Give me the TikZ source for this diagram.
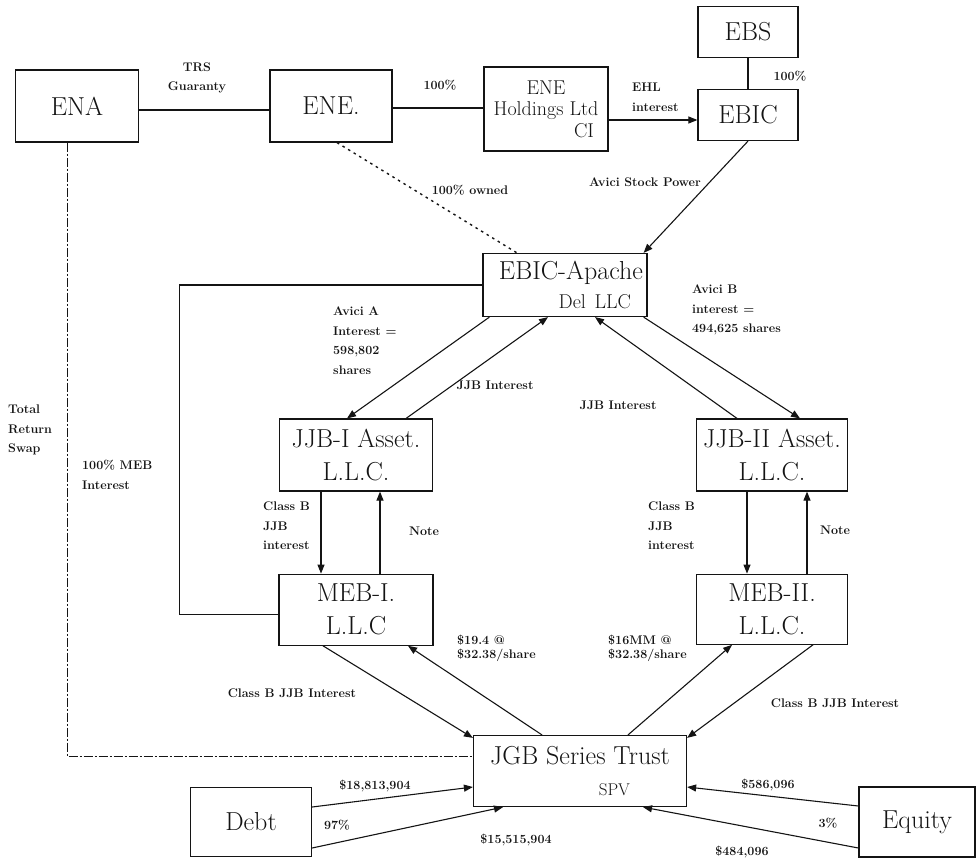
\documentclass[tikz,border=0pt]{standalone}
\usepackage{tikz}
\usetikzlibrary{
  positioning,
  arrows.meta
}
\definecolor{inkcolor}{RGB}{20,20,20}
\tikzset{
  entitybox/.style={
    draw=inkcolor, line width=1.2pt, inner sep=3pt,
    align=center, font=\fontsize{26}{33}\selectfont, text=inkcolor
  },
  smallbox/.style={
    entitybox, font=\fontsize{20}{21.5}\selectfont
  },
  flowarrow/.style={
    ->, >={Triangle[length=9pt,width=7pt]}, line width=1.1pt, draw=inkcolor
  },
  plainline/.style={
    line width=1.1pt, draw=inkcolor
  },
  ownline/.style={
    dash pattern=on 2.5pt off 4pt, line width=1.4pt, draw=inkcolor
  },
  swapline/.style={
    dash pattern=on 9pt off 2pt on 2pt off 2pt, line width=0.9pt, draw=inkcolor
  },
  flowlabel/.style={
    font=\fontsize{12.5}{19.5}\selectfont\bfseries, align=left,
    inner sep=0pt, text=inkcolor
  },
  pricelabel/.style={
    flowlabel, font=\fontsize{12.5}{14}\selectfont\bfseries
  }
}

\begin{document}
\begin{tikzpicture}[x=1pt, y=-1pt]
    \useasboundingbox (0,0) rectangle (976,860);

    % top row
    \node[entitybox, minimum width=123pt, minimum height=72pt] (ena) at (77,106) {ENA};
    \node[entitybox, minimum width=122pt, minimum height=72pt] (ene) at (331,106) {ENE.};
    \node[smallbox, minimum width=124pt, minimum height=84pt] (eneh) at (546,109) {ENE\\Holdings Ltd\\\makebox[96pt][r]{CI}};
    \node[entitybox, minimum width=100pt, minimum height=51pt] (ebic) at (748,115) {EBIC};
    \node[entitybox, minimum width=100pt, minimum height=51pt, above=31pt of ebic] (ebs) {EBS};

    % middle
    \node[entitybox, minimum width=164pt, minimum height=63pt, align=right, text width=156pt] (apache) at (565,285)
      {EBIC-Apache\\[-4pt]{\fontsize{20}{20}\selectfont Del LLC}\hspace*{12pt}};
    \node[entitybox, minimum width=153pt, minimum height=72pt] (jjbone) at (356,455) {JJB-I Asset.\\L.L.C.};
    \node[entitybox, minimum width=151pt, minimum height=72pt] (jjbtwo) at (772,455) {JJB-II Asset.\\L.L.C.};
    \node[entitybox, minimum width=154pt, minimum height=71pt, below=82pt of jjbone] (mebone) {MEB-I.\\L.L.C};
    \node[entitybox, minimum width=151pt, minimum height=70pt, below=82pt of jjbtwo] (mebtwo) {MEB-II.\\L.L.C.};

    % bottom row
    \node[entitybox, minimum width=213pt, minimum height=71pt] (jgb) at (580,771)
      {JGB Series Trust\\[-2pt]{\fontsize{17}{17}\selectfont\makebox[100pt][r]{SPV}}};
    \node[entitybox, minimum width=121pt, minimum height=69pt] (debt) at (251,822) {Debt};
    \node[entitybox, minimum width=116pt, minimum height=70pt] (equity) at (917,822) {Equity};

    % ownership lines
    \draw[plainline] ([yshift=-4pt]ena.east) -- ([yshift=-4pt]ena.east -| ene.west);
    \draw[plainline] ([yshift=-2pt]ene.east) -- ([yshift=-2pt]ene.east -| eneh.west);
    \draw[flowarrow] ([yshift=-11pt]eneh.east) -- ([yshift=-11pt]eneh.east -| ebic.west);
    \draw[plainline] (ebs) -- (ebic);
    \draw[flowarrow] (ebic.south) -- ([xshift=-4pt]apache.north east);
    \draw[ownline] ([xshift=6pt]ene.south) -- ([xshift=-48pt]apache.north);
    \draw[swapline] ([xshift=-10pt]ena.south) |- ([yshift=15pt]jgb.west);
    \draw[plainline] (apache.west) -| ([xshift=-99pt,yshift=-5pt]mebone.west) -- ([yshift=-5pt]mebone.west);

    % apache <-> jjb
    \draw[flowarrow] ([xshift=7pt]apache.south west) -- ([xshift=-9pt]jjbone.north);
    \draw[flowarrow] ([xshift=-27pt]jjbone.north east) -- ([xshift=-17pt]apache.south);
    \draw[flowarrow] ([xshift=-35pt]jjbtwo.north) -- ([xshift=30pt]apache.south);
    \draw[flowarrow] ([xshift=-4pt]apache.south east) -- ([xshift=28pt]jjbtwo.north);

    % jjb <-> meb
    \draw[flowarrow] ([xshift=-35pt]jjbone.south) -- ([xshift=-35pt]mebone.north);
    \draw[flowarrow] ([xshift=24pt]mebone.north) -- ([xshift=24pt]jjbone.south);
    \draw[flowarrow] ([xshift=-25pt]jjbtwo.south) -- ([xshift=-25pt]mebtwo.north);
    \draw[flowarrow] ([xshift=35pt]mebtwo.north) -- ([xshift=35pt]jjbtwo.south);

    % meb <-> trust
    \draw[flowarrow] ([xshift=-33pt]mebone.south) -- ([yshift=-3pt]jgb.north west);
    \draw[flowarrow] ([xshift=-38pt]jgb.north) -- ([xshift=52pt]mebone.south);
    \draw[flowarrow] ([xshift=48pt]jgb.north) -- ([xshift=-40pt]mebtwo.south);
    \draw[flowarrow] ([xshift=41pt]mebtwo.south) -- ([yshift=-3pt]jgb.north east);

    % funding
    \draw[flowarrow] ([yshift=15pt]debt.east) -- ([yshift=-16pt]jgb.west);
    \draw[flowarrow] ([yshift=-26pt]debt.east) -- ([xshift=-77pt]jgb.south);
    \draw[flowarrow] ([yshift=16pt]equity.west) -- ([yshift=-16pt]jgb.east);
    \draw[flowarrow] ([yshift=-26pt]equity.west) -- ([xshift=63pt]jgb.south);

    % labels
    \node[flowlabel, align=center] (trs) at (197,78) {TRS\\Guaranty};
    \node[flowlabel] (pctene) at (440,85) {100\%};
    \node[flowlabel, anchor=west] (ehl) at (632,97) {EHL\\interest};
    \node[flowlabel] (pctebs) at (790,76) {100\%};
    \node[flowlabel] (stockpwr) at (645,182) {Avici Stock Power};
    \node[flowlabel] (owned) at (470,190) {100\% owned};
    \node[flowlabel, anchor=west] (trswap) at (8,430) {Total\\Return\\Swap};
    \node[flowlabel, anchor=west] (mebint) at (82,475) {100\% MEB\\Interest};
    \node[flowlabel, anchor=north west] (avicia) at (333,307) {Avici A\\Interest =\\598,802\\shares};
    \node[flowlabel] (jjbintone) at (495,385) {JJB Interest};
    \node[flowlabel] (jjbinttwo) at (618,405) {JJB Interest};
    \node[flowlabel, anchor=north west] (avicib) at (692,285) {Avici B\\interest =\\494,625 shares};
    \node[flowlabel, anchor=north west] (classone) at (263,502) {Class B\\JJB\\interest};
    \node[flowlabel] (noteone) at (424,531) {Note};
    \node[flowlabel, anchor=north west] (classtwo) at (648,502) {Class B\\JJB\\interest};
    \node[flowlabel] (notetwo) at (835,530) {Note};
    \node[flowlabel] (classmebone) at (292,693) {Class B JJB Interest};
    \node[pricelabel, anchor=west] (priceone) at (457,648) {\$19.4 @\\\$32.38/share};
    \node[pricelabel, anchor=west] (pricetwo) at (608,648) {\$16MM @\\\$32.38/share};
    \node[flowlabel] (classmebtwo) at (835,703) {Class B JJB Interest};
    \node[flowlabel] (debtup) at (375,786) {\$18,813,904};
    \node[flowlabel] (debtpct) at (337,825) {97\%};
    \node[flowlabel] (debtlow) at (516,840) {\$15,515,904};
    \node[flowlabel] (equp) at (768,785) {\$586,096};
    \node[flowlabel] (eqpct) at (828,823) {3\%};
    \node[flowlabel] (eqlow) at (742,852) {\$484,096};

  \end{tikzpicture}
\end{document}
